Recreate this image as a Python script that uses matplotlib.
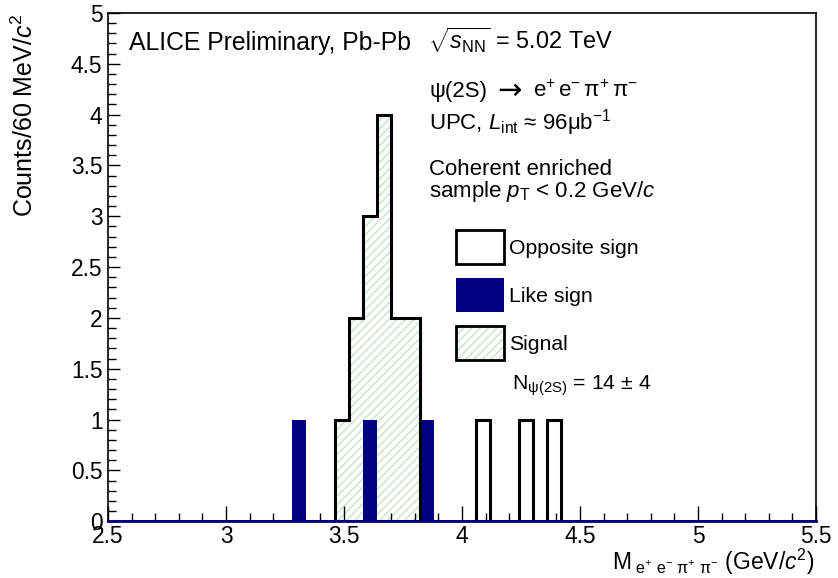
import numpy as np
import matplotlib
matplotlib.use("Agg")
import matplotlib.pyplot as plt
from matplotlib.patches import Patch
from matplotlib.ticker import MultipleLocator, FuncFormatter

plt.rcParams['font.family'] = ['Liberation Sans', 'DejaVu Sans']
plt.rcParams['mathtext.fontset'] = 'custom'
plt.rcParams['mathtext.rm'] = 'Liberation Sans'
plt.rcParams['mathtext.it'] = 'Liberation Sans:italic'
plt.rcParams['mathtext.bf'] = 'Liberation Sans:bold'
plt.rcParams['hatch.linewidth'] = 0.8

# 60 MeV bins from 2.5 to 5.5 GeV/c^2
edges = np.round(np.linspace(2.5, 5.5, 51), 2)

# counts per bin (50 bins)
opposite_sign = [0, 0, 0, 0, 0, 0, 0, 0, 0, 0,
                 0, 0, 0, 0, 0, 0, 1, 2, 3, 4,
                 2, 2, 0, 0, 0, 0, 1, 0, 0, 1,
                 0, 1, 0, 0, 0, 0, 0, 0, 0, 0,
                 0, 0, 0, 0, 0, 0, 0, 0, 0, 0]
like_sign = [0, 0, 0, 0, 0, 0, 0, 0, 0, 0,
             0, 0, 0, 1, 0, 0, 0, 0, 1, 0,
             0, 0, 1, 0, 0, 0, 0, 0, 0, 0,
             0, 0, 0, 0, 0, 0, 0, 0, 0, 0,
             0, 0, 0, 0, 0, 0, 0, 0, 0, 0]
signal = [0, 0, 0, 0, 0, 0, 0, 0, 0, 0,
          0, 0, 0, 0, 0, 0, 1, 2, 3, 4,
          2, 2, 0, 0, 0, 0, 0, 0, 0, 0,
          0, 0, 0, 0, 0, 0, 0, 0, 0, 0,
          0, 0, 0, 0, 0, 0, 0, 0, 0, 0]

navy = '#000080'
hatch_green = '#b9dfb9'

W, H = 838, 578
fig = plt.figure(figsize=(W / 100, H / 100), dpi=100)
ax = fig.add_axes([108 / W, 1 - 521.3 / H, 708 / W, 508.3 / H])

# signal: hatched area
ax.stairs(signal, edges, fill=True, facecolor='none', edgecolor=hatch_green,
          hatch='////', linewidth=0, zorder=1)
# like sign: filled navy
ax.stairs(like_sign, edges, fill=True, color=navy, linewidth=0, zorder=2)
# opposite sign: black outline
ax.stairs(opposite_sign, edges, color='black', linewidth=2.2, zorder=3)
ax.plot([edges[0], edges[-1]], [0, 0], color=navy, lw=2, zorder=4, clip_on=False)

ax.set_xlim(2.5, 5.5)
ax.set_ylim(0, 5)
ax.xaxis.set_major_locator(MultipleLocator(0.5))
ax.xaxis.set_minor_locator(MultipleLocator(0.1))
ax.yaxis.set_major_locator(MultipleLocator(0.5))
ax.yaxis.set_minor_locator(MultipleLocator(0.1))
fmt = FuncFormatter(lambda v, p: '%g' % v)
ax.xaxis.set_major_formatter(fmt)
ax.yaxis.set_major_formatter(fmt)
ax.tick_params(which='both', direction='in', top=False, right=False,
               labelsize=16.4, width=1)
ax.tick_params(axis='x', which='major', length=10.8, pad=3)
ax.tick_params(axis='x', which='minor', length=5.8)
ax.tick_params(axis='y', which='major', length=8.6, pad=4)
ax.tick_params(axis='y', which='minor', length=5.5)
for s in ax.spines.values():
    s.set_linewidth(1.2)

fig.text(815 / W, 1 - 570 / H,
         r'M$_{\ \mathrm{e^{+}\ e^{-}\ \pi^{+}\ \pi^{-}}}$ (GeV/$c^{2}$)',
         ha='right', va='baseline', fontsize=16.5)
fig.text(25 / W, 1 - 13 / H, r'Counts/60 MeV/$c^{2}$', rotation=90,
         ha='center', va='top', fontsize=18)

def ftext(x, y, s, size=16, **kw):
    # y is the text baseline in pixels from the top
    fig.text(x / W, 1 - y / H, s, ha='left', va='baseline', fontsize=size, **kw)

ftext(129, 50, 'ALICE Preliminary, Pb-Pb', 17.8)
ftext(428, 49, r'$\sqrt{s_{\mathrm{NN}}}$ = 5.02 TeV', 16.9)
ftext(429, 97, 'ψ(2S)')
ftext(497, 99, '→', 21, family='DejaVu Sans')
ftext(533, 97, r'e$^{+}\,$e$^{-}\,$π$^{+}\,$π$^{-}$')
ftext(429, 130, r'UPC, $L_{\mathrm{int}}$ ≈ 96μb$^{-1}$')
ftext(429, 175, 'Coherent enriched')
ftext(429, 197, r'sample $p_{\mathrm{T}}$ < 0.2 GeV/$c$')
ftext(512, 390, r'N$_{\mathrm{ψ(2S)}}$ = 14 ± 4', 15.3)

h_os = Patch(facecolor='white', edgecolor='black', linewidth=2)
h_ls = Patch(facecolor=navy, edgecolor=navy, linewidth=0)
h_sig = (Patch(facecolor='white', edgecolor=hatch_green, hatch='////', linewidth=0),
         Patch(facecolor='none', edgecolor='black', linewidth=2))
leg_size = 15.3
fs = leg_size * 100 / 72
box_h = 34 / fs
hh = (box_h - 0.245) / 0.65
fig.legend([h_os, h_ls, h_sig], ['Opposite sign', 'Like sign', 'Signal'],
           loc='upper left', bbox_to_anchor=(455.7 / W, 1 - 230 / H),
           frameon=False, fontsize=leg_size, borderpad=0, borderaxespad=0,
           handlelength=48 / fs, handleheight=hh, labelspacing=14 / fs,
           handletextpad=5 / fs)

fig.savefig('out.png', dpi=100)
